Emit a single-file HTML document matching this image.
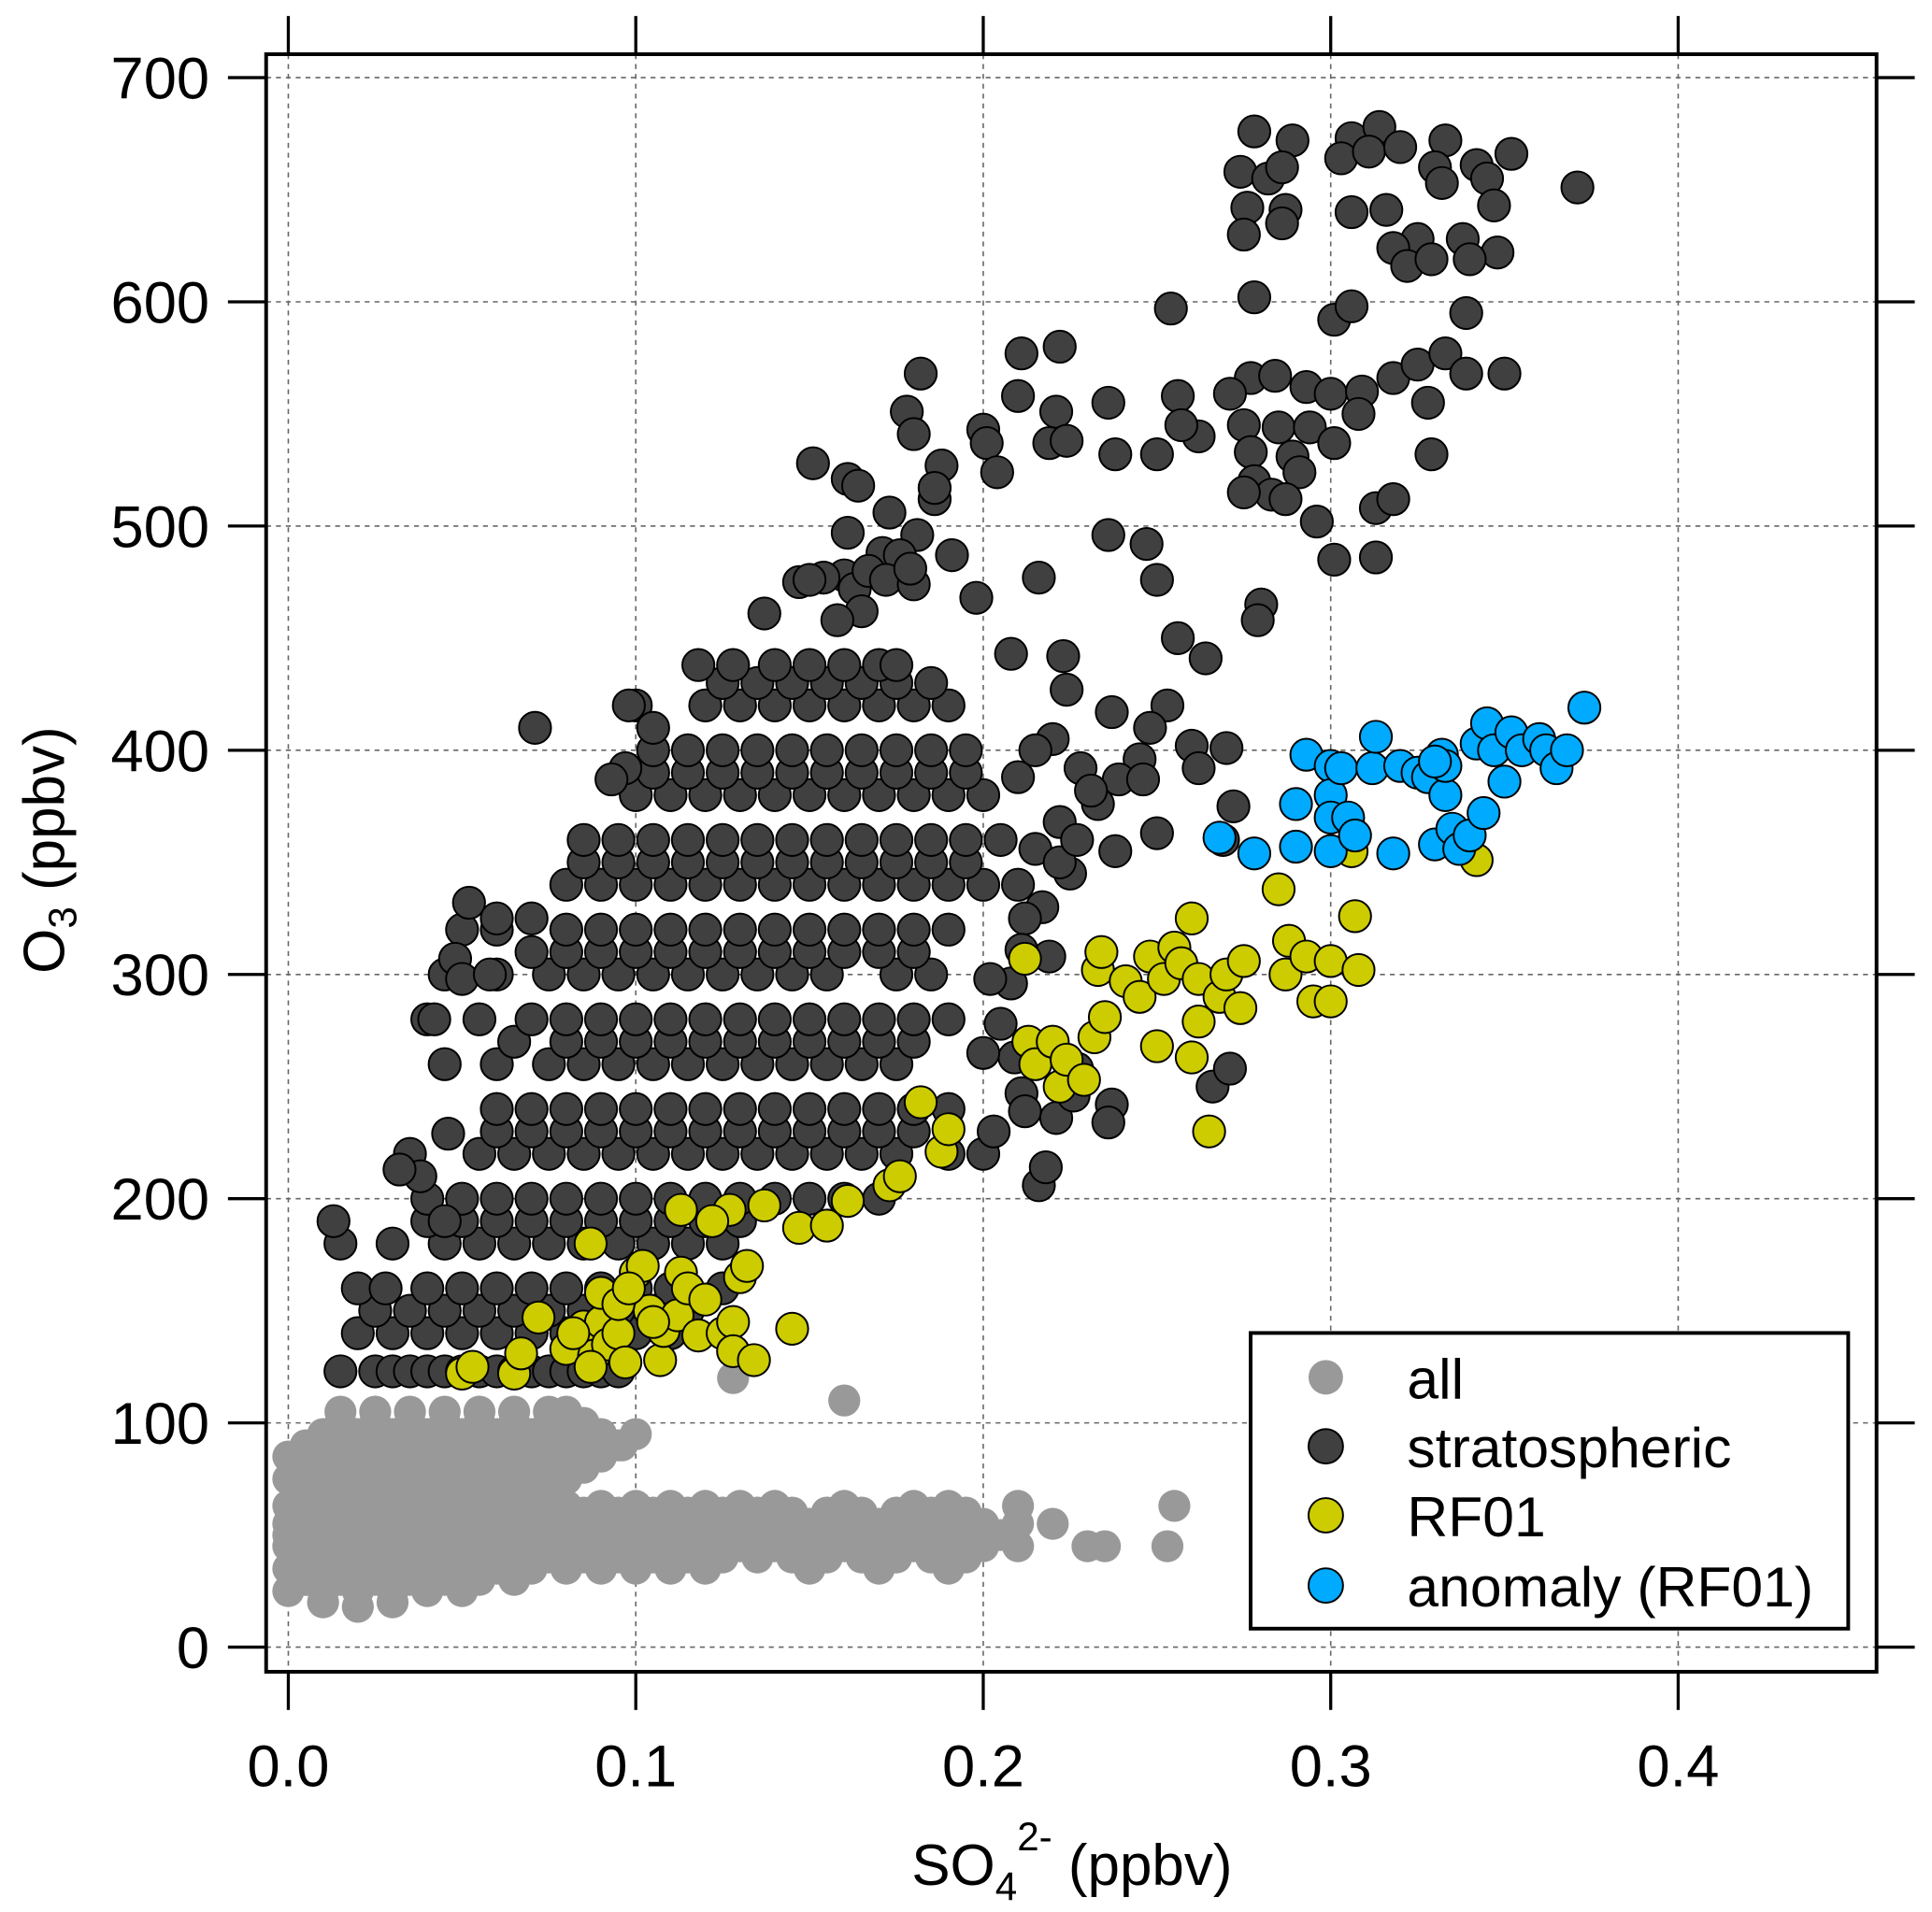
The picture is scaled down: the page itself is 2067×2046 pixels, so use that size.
<!DOCTYPE html>
<html><head><meta charset="utf-8">
<style>
html,body{margin:0;padding:0;background:#fff;}
svg{display:block;font-family:"Liberation Sans",Arial,sans-serif;}
</style></head>
<body>
<svg id="chart" width="2067" height="2046" viewBox="0 0 1568 1552" preserveAspectRatio="none" xmlns="http://www.w3.org/2000/svg">
<rect x="0" y="0" width="1568" height="1552" fill="#fff"/>
<g id="grid"></g>
<g id="gray"></g>
<g id="strato"></g>
<g id="rf01"></g>
<g id="anom"></g>
<g id="axes"></g>
<text transform="translate(52,690) rotate(-90)" text-anchor="middle" font-size="47">O<tspan font-size="32" dy="10">3</tspan><tspan dy="-10"> (ppbv)</tspan></text>
<text x="870" y="1530" text-anchor="middle" font-size="47">SO<tspan font-size="32" dy="12">4</tspan><tspan font-size="32" dy="-40">2-</tspan><tspan dy="28"> (ppbv)</tspan></text>
<g>
<rect x="1015" y="1082" width="485" height="240" fill="#fff" stroke="#000" stroke-width="3"/>
<circle cx="1076" cy="1118" r="14" fill="#999"/>
<text x="1142" y="1135" font-size="46">all</text>
<circle cx="1076" cy="1174" r="14" fill="#404040" stroke="#000" stroke-width="1.5"/>
<text x="1142" y="1191" font-size="46">stratospheric</text>
<circle cx="1076" cy="1230" r="14" fill="#cccc00" stroke="#000" stroke-width="1.5"/>
<text x="1142" y="1247" font-size="46">RF01</text>
<circle cx="1076" cy="1287" r="14" fill="#00aaff" stroke="#000" stroke-width="1.5"/>
<text x="1142" y="1304" font-size="46">anomaly (RF01)</text>
</g>
</svg>
<script>
const xTicks = [0.0, 0.1, 0.2, 0.3, 0.4];
const xTickLabels = ["0.0", "0.1", "0.2", "0.3", "0.4"];
const yTicks = [0, 100, 200, 300, 400, 500, 600, 700];
const yTickLabels = ["0", "100", "200", "300", "400", "500", "600", "700"];

const grayRows = [
 [25,[0.0,0.01,0.02,0.03,0.04,0.05]],
 [30,[0.005,0.015,0.025,0.035,0.045,0.055,0.065]],
 [35,[0.0,0.01,0.02,0.03,0.04,0.05,0.06,0.07,0.08,0.09,0.10,0.11,0.12,0.15,0.17,0.19]],
 [40,[0.005,0.015,0.025,0.035,0.045,0.055,0.065,0.075,0.085,0.095,0.105,0.115,0.125,0.135,0.145,0.155,0.165,0.175,0.185,0.195]],
 [45,[0.0,0.01,0.02,0.03,0.04,0.05,0.06,0.07,0.08,0.09,0.10,0.11,0.12,0.13,0.14,0.15,0.16,0.17,0.18,0.19,0.20,0.21,0.23,0.235,0.253]],
 [50,[0.005,0.015,0.025,0.035,0.045,0.055,0.065,0.075,0.085,0.095,0.105,0.115,0.125,0.135,0.145,0.155,0.165,0.175,0.185,0.195,0.205]],
 [55,[0.0,0.01,0.02,0.03,0.04,0.05,0.06,0.07,0.08,0.09,0.10,0.11,0.12,0.13,0.14,0.15,0.16,0.17,0.18,0.19,0.20,0.21,0.22]],
 [60,[0.005,0.015,0.025,0.035,0.045,0.055,0.065,0.075,0.085,0.095,0.105,0.115,0.125,0.135,0.145,0.155,0.165,0.175,0.185,0.195]],
 [63,[0.0,0.01,0.02,0.03,0.04,0.05,0.06,0.07,0.08,0.09,0.10,0.11,0.12,0.13,0.14,0.16,0.18,0.19,0.21,0.255]],
 [70,[0.005,0.015,0.025,0.035,0.045,0.055,0.065,0.075]],
 [75,[0.0,0.01,0.02,0.03,0.04,0.05,0.06,0.07,0.08]],
 [80,[0.005,0.015,0.025,0.035,0.045,0.055,0.065,0.075,0.085]],
 [85,[0.0,0.01,0.02,0.03,0.04,0.05,0.06,0.07,0.08,0.09]],
 [90,[0.005,0.015,0.025,0.035,0.045,0.055,0.065,0.075,0.085,0.095]],
 [95,[0.01,0.02,0.03,0.04,0.05,0.06,0.07,0.08,0.09,0.10]],
 [100,[0.015,0.025,0.035,0.045,0.055,0.065,0.075,0.085]],
 [105,[0.015,0.025,0.035,0.045,0.055,0.065,0.075,0.08]]
];
const grayExtra = [[0.128,120],[0.16,110],[0.096,90],[0.085,82],[0.0,50],[0.005,30],[0.003,70],[0.01,20],[0.02,18],[0.03,20]];

const stratoRows = [
 [123,[0.015,0.025,0.03,0.035,0.04,0.045,0.05,0.055,0.06,0.065,0.07,0.075,0.08,0.085,0.09,0.095]],
 [140,[0.02,0.03,0.04,0.05,0.06,0.07,0.08,0.09,0.10,0.11]],
 [150,[0.025,0.035,0.045,0.055,0.065,0.075,0.085,0.095,0.105,0.115]],
 [160,[0.02,0.028,0.04,0.05,0.06,0.07,0.08,0.09,0.10,0.11,0.125]],
 [180,[0.015,0.03,0.045,0.055,0.065,0.075,0.085,0.095,0.105,0.115,0.125]],
 [190,[0.04,0.05,0.06,0.07,0.08,0.09,0.10,0.11,0.12,0.13]],
 [200,[0.04,0.05,0.06,0.07,0.08,0.09,0.10,0.11,0.12,0.13,0.14,0.15,0.16,0.17]],
 [220,[0.035,0.055,0.065,0.075,0.085,0.095,0.105,0.115,0.125,0.135,0.145,0.155,0.165,0.175,0.19,0.20]],
 [230,[0.06,0.07,0.08,0.09,0.10,0.11,0.12,0.13,0.14,0.15,0.16,0.17,0.18]],
 [240,[0.06,0.07,0.08,0.09,0.10,0.11,0.12,0.13,0.14,0.15,0.16,0.17,0.18,0.19]],
 [260,[0.045,0.06,0.075,0.085,0.095,0.105,0.115,0.125,0.135,0.145,0.155,0.165,0.175]],
 [270,[0.065,0.08,0.09,0.10,0.11,0.12,0.13,0.14,0.15,0.16,0.17,0.18]],
 [280,[0.04,0.055,0.07,0.08,0.09,0.10,0.11,0.12,0.13,0.14,0.15,0.16,0.17,0.18,0.19]],
 [300,[0.045,0.06,0.075,0.085,0.095,0.105,0.115,0.125,0.135,0.145,0.155,0.175,0.185]],
 [310,[0.07,0.08,0.09,0.10,0.11,0.12,0.13,0.14,0.15,0.16,0.17,0.18]],
 [320,[0.05,0.06,0.08,0.09,0.10,0.11,0.12,0.13,0.14,0.15,0.16,0.17,0.18,0.19]],
 [340,[0.08,0.09,0.10,0.11,0.12,0.13,0.14,0.15,0.16,0.17,0.18,0.19,0.20]],
 [350,[0.085,0.095,0.105,0.115,0.125,0.135,0.145,0.155,0.165,0.175,0.185,0.195]],
 [360,[0.085,0.095,0.105,0.115,0.125,0.135,0.145,0.155,0.165,0.175,0.185,0.195,0.205]],
 [380,[0.10,0.11,0.12,0.13,0.14,0.15,0.16,0.17,0.18,0.19,0.20]],
 [390,[0.105,0.115,0.125,0.135,0.145,0.155,0.165,0.175,0.185,0.195]],
 [400,[0.105,0.115,0.125,0.135,0.145,0.155,0.165,0.175,0.185,0.195]],
 [420,[0.10,0.12,0.13,0.14,0.15,0.16,0.17,0.18,0.19]],
 [430,[0.125,0.135,0.145,0.155,0.165,0.175,0.185]],
 [438,[0.118,0.128,0.14,0.15,0.16,0.17,0.175]]
];
const stratoExtra = [
 [0.278,676],[0.289,672],[0.306,673],[0.314,678],[0.333,672],[0.352,666],[0.371,651],[0.274,658],[0.282,655],[0.286,660],[0.303,664],[0.311,667],[0.320,669],[0.330,660],[0.342,661],[0.345,655],[0.347,643],[0.276,642],[0.287,641],[0.275,630],[0.286,635],[0.306,640],[0.316,641],[0.325,628],[0.332,653],[0.338,628],[0.348,622],[0.318,624],[0.322,616],[0.329,619],[0.340,619],[0.278,602],[0.301,592],[0.306,598],[0.254,597],[0.339,595],
 [0.277,566],[0.284,567],[0.293,562],[0.300,559],[0.309,560],[0.318,566],[0.325,572],[0.333,577],[0.339,568],[0.350,568],[0.262,540],[0.271,559],[0.256,558],[0.257,545],[0.275,545],[0.285,544],[0.294,544],[0.301,537],[0.308,550],[0.328,555],[0.277,533],[0.289,531],[0.329,532],[0.250,532],[0.278,520],[0.283,514],[0.291,524],[0.275,515],[0.287,512],[0.296,502],[0.301,485],[0.313,486],[0.313,508],[0.318,512],[0.280,465],[0.279,458],[0.264,441],[0.256,450],[0.250,476],[0.247,492],
 [0.182,568],[0.211,577],[0.222,580],[0.200,543],[0.210,558],[0.221,551],[0.219,537],[0.224,538],[0.236,555],[0.238,532],[0.178,551],[0.180,541],[0.201,537],[0.204,524],[0.151,528],[0.161,521],[0.164,518],[0.173,506],[0.188,527],[0.186,512],[0.186,517],[0.161,497],[0.181,496],[0.191,487],[0.171,488],[0.176,487],[0.160,478],[0.163,472],[0.167,480],[0.172,476],[0.180,474],[0.198,468],[0.216,477],[0.236,496],[0.154,477],[0.147,475],[0.150,476],[0.137,461],[0.179,481],[0.165,462],[0.158,458],
 [0.208,443],[0.223,442],[0.224,427],[0.237,417],[0.253,420],[0.260,402],[0.262,392],[0.248,410],[0.245,396],[0.239,387],[0.250,363],[0.233,376],[0.220,405],[0.228,392],[0.231,382],[0.215,400],[0.222,368],[0.215,356],[0.210,388],[0.238,355],[0.225,345],[0.210,340],[0.217,330],[0.219,308],[0.208,296],[0.222,350],[0.246,387],[0.227,360],[0.212,325],[0.270,401],[0.272,375],[0.269,360],[0.266,250],[0.271,258],[0.237,242],[0.236,234],[0.211,247],[0.203,230],[0.216,206],[0.212,239],[0.221,236],[0.209,263],[0.227,258],[0.200,265],[0.205,278],[0.202,298],[0.211,311],[0.226,246],[0.218,214],
 [0.071,410],[0.013,190],[0.038,210],[0.032,213],[0.046,229],[0.048,307],[0.052,332],[0.060,325],[0.070,325],[0.042,280],[0.050,298],[0.058,300],[0.045,190],[0.098,420],[0.097,392],[0.093,387],[0.105,410]
];
const rf01Pts = [
 [0.05,122],[0.053,125],[0.065,122],[0.067,131],[0.072,147],[0.08,133],[0.085,143],[0.087,180],[0.088,130],[0.09,145],[0.092,135],[0.095,140],[0.097,127],[0.1,167],[0.102,170],[0.104,150],[0.107,128],[0.108,141],[0.112,148],[0.113,167],[0.115,160],[0.118,139],[0.12,155],[0.125,140],[0.128,145],[0.128,132],[0.13,165],[0.132,170],[0.134,128],[0.127,195],[0.113,195],[0.122,190],[0.137,197],[0.145,142],[0.147,187],[0.155,188],[0.161,199],[0.173,206],[0.176,210],[0.182,243],[0.188,221],[0.19,231],[0.09,158],[0.095,153],[0.105,145],[0.098,160],[0.082,140],[0.087,125],
 [0.212,307],[0.213,270],[0.215,260],[0.22,270],[0.222,250],[0.224,262],[0.229,253],[0.232,272],[0.233,302],[0.234,310],[0.235,281],[0.241,297],[0.245,290],[0.248,308],[0.25,268],[0.252,298],[0.255,312],[0.257,305],[0.26,325],[0.26,263],[0.262,279],[0.262,298],[0.265,230],[0.268,290],[0.27,300],[0.274,285],[0.275,306],[0.285,338],[0.287,300],[0.288,315],[0.293,308],[0.295,288],[0.3,306],[0.3,288],[0.306,355],[0.307,326],[0.308,302],[0.342,351]
];
const anomPts = [
 [0.268,361],[0.278,354],[0.29,376],[0.29,357],[0.293,398],[0.3,393],[0.3,380],[0.3,370],[0.3,355],[0.303,392],[0.305,370],[0.307,362],[0.312,392],[0.313,406],[0.318,354],[0.32,393],[0.325,390],[0.328,388],[0.33,358],[0.332,398],[0.333,380],[0.333,393],[0.335,365],[0.337,356],[0.34,362],[0.342,403],[0.344,372],[0.345,412],[0.347,400],[0.35,386],[0.352,408],[0.355,400],[0.36,405],[0.362,400],[0.365,392],[0.368,400],[0.373,419],[0.33,395]
];

const NS = "http://www.w3.org/2000/svg";
const L = 216, R = 1523, T = 44, B = 1357;
function xs(v){ return 234 + v * 2820; }
function ys(v){ return 1337 - v * 1.8200; }
function mk(tag, attrs, parent){
  const e = document.createElementNS(NS, tag);
  for (const k in attrs) e.setAttribute(k, attrs[k]);
  parent.appendChild(e); return e;
}
const grid = document.getElementById('grid');
const axes = document.getElementById('axes');
xTicks.forEach((t, i) => {
  const g = mk('line', {x1: xs(t), x2: xs(t), y1: T, y2: B, stroke: '#666', 'stroke-width': 1.2, 'stroke-dasharray': '4,4'}, grid);
  
  
  const tb = mk('line', {x1: xs(t), x2: xs(t), y1: B, y2: B + 31, stroke: '#000', 'stroke-width': 2.5}, axes);
  
  
  const tt = mk('line', {x1: xs(t), x2: xs(t), y1: 13, y2: T, stroke: '#000', 'stroke-width': 2.5}, axes);
  
  
  const lb = mk('text', {x: xs(t), y: 1450, 'text-anchor': 'middle', 'font-size': 48}, axes);
  lb.textContent = xTickLabels[i];
  
  
});
yTicks.forEach((t, i) => {
  const g = mk('line', {x1: L, x2: R, y1: ys(t), y2: ys(t), stroke: '#666', 'stroke-width': 1.2, 'stroke-dasharray': '4,4'}, grid);
  
  
  const tl = mk('line', {x1: L - 31, x2: L, y1: ys(t), y2: ys(t), stroke: '#000', 'stroke-width': 2.5}, axes);
  
  
  const tr = mk('line', {x1: R, x2: R + 31, y1: ys(t), y2: ys(t), stroke: '#000', 'stroke-width': 2.5}, axes);
  
  
  const lb = mk('text', {x: 170, y: ys(t) + 17, 'text-anchor': 'end', 'font-size': 48}, axes);
  lb.textContent = yTickLabels[i];
  
  
});
const frame = mk('rect', {x: L, y: T, width: R - L, height: B - T, fill: 'none', stroke: '#000', 'stroke-width': 3}, axes);



function dot(parent, x, y, fill, stroke, name){
  const c = mk('circle', {cx: xs(x), cy: ys(y), r: 13, fill: fill}, parent);
  if (stroke) { c.setAttribute('stroke', '#000'); c.setAttribute('stroke-width', 1.5); }
  
  
}
const gG = document.getElementById('gray');
grayRows.forEach(r => r[1].forEach(x => dot(gG, x, r[0], '#999999', false, 'point-all')));
grayExtra.forEach(p => dot(gG, p[0], p[1], '#999999', false, 'point-all'));
const gS = document.getElementById('strato');
stratoRows.forEach(r => r[1].forEach(x => dot(gS, x, r[0], '#404040', true, 'point-stratospheric')));
stratoExtra.forEach(p => dot(gS, p[0], p[1], '#404040', true, 'point-stratospheric'));
const gR = document.getElementById('rf01');
rf01Pts.forEach(p => dot(gR, p[0], p[1], '#cccc00', true, 'point-rf01'));
const gA = document.getElementById('anom');
anomPts.forEach(p => dot(gA, p[0], p[1], '#00aaff', true, 'point-anomaly'));
</script>
</body></html>
